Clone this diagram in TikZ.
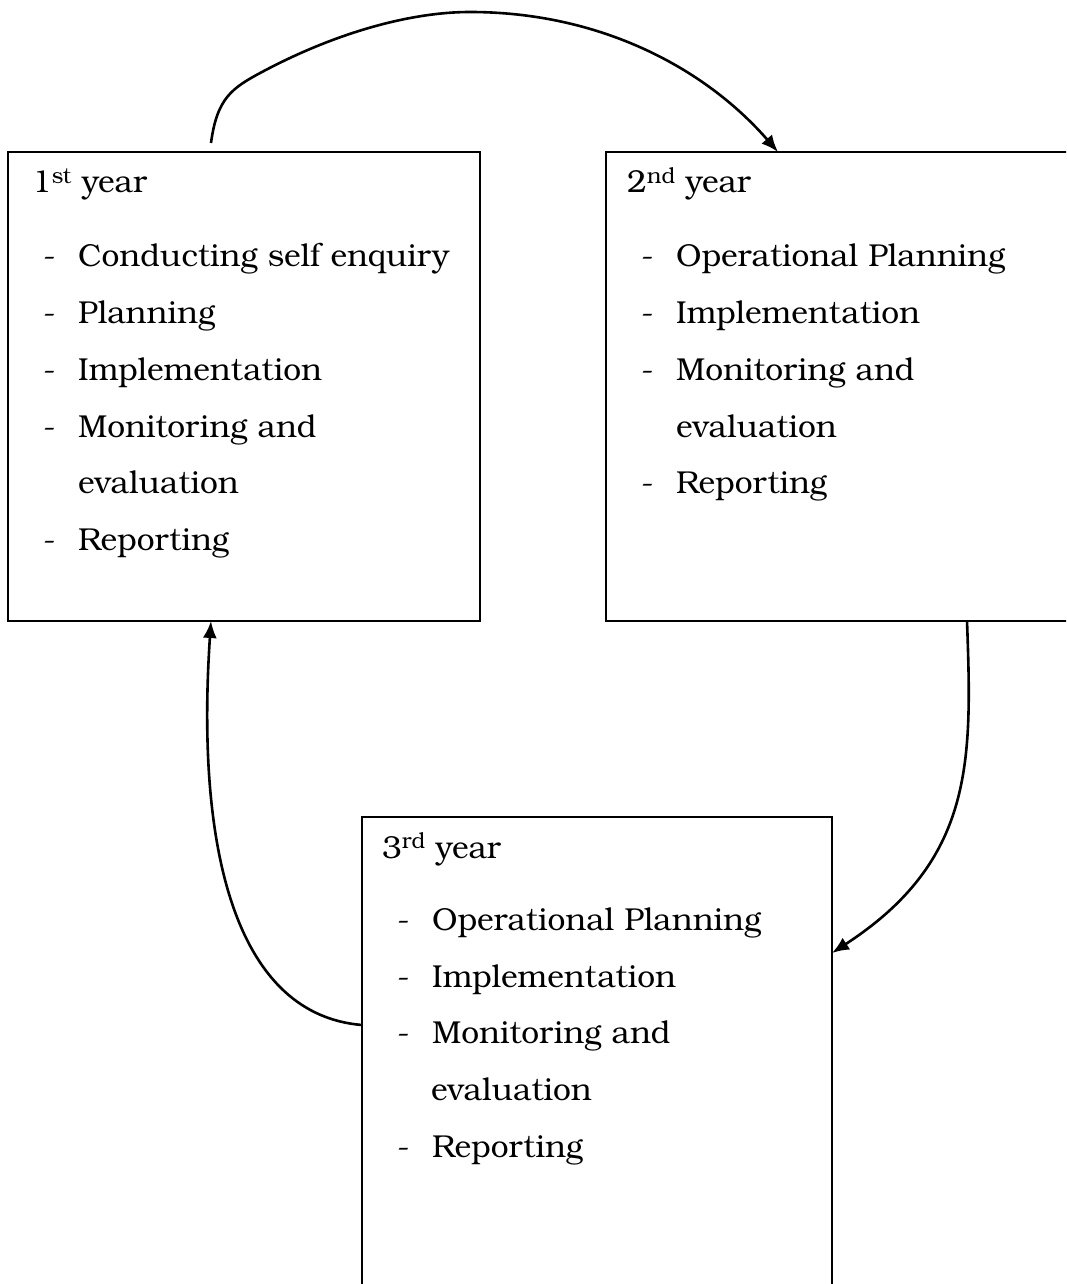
\documentclass[tikz,border=0pt]{standalone}
\usepackage{fontspec}
\setmainfont{texgyrebonum-regular.otf}
\usetikzlibrary{arrows.meta}
\newcommand{\itm}[1]{\makebox[35pt][l]{-}#1}
\begin{document}
\begin{tikzpicture}[x=1pt,y=-1pt,
  box/.style={draw,line width=2pt,inner sep=0pt,outer sep=0pt},
  lbl/.style={anchor=base west,inner sep=0pt,font=\fontsize{31.7}{37}\selectfont},
  conn/.style={line width=2.6pt,-{Latex[length=17pt,width=14pt]}}]
\clip (0,0) rectangle (1066,1284);
\fill[white] (0,0) rectangle (1066,1284);
% boxes
\node[box,anchor=north west,minimum width=472pt,minimum height=469pt] (b1) at (8,152) {};
\node[box,anchor=north west,minimum width=520pt,minimum height=469pt] (b2) at (606,152) {};
\node[box,anchor=north west,minimum width=470pt,minimum height=620pt] (b3) at (362,817) {};
% box 1 text
\node[lbl] (t1) at (32,193) {1\textsuperscript{st} year};
\node[lbl] (i1a) at (43,266) {\itm{Conducting self enquiry}};
\node[lbl] (i1b) at (43,323) {\itm{Planning}};
\node[lbl] (i1c) at (43,380) {\itm{Implementation}};
\node[lbl] (i1d) at (43,437) {\itm{Monitoring and}};
\node[lbl] (i1e) at (78,493) {evaluation};
\node[lbl] (i1f) at (43,550) {\itm{Reporting}};
% box 2 text
\node[lbl] (t2) at (627,193) {2\textsuperscript{nd} year};
\node[lbl] (i2a) at (641,266) {\itm{Operational Planning}};
\node[lbl] (i2b) at (641,323) {\itm{Implementation}};
\node[lbl] (i2c) at (641,380) {\itm{Monitoring and}};
\node[lbl] (i2d) at (676,437) {evaluation};
\node[lbl] (i2e) at (641,493) {\itm{Reporting}};
% box 3 text
\node[lbl] (t3) at (382,858) {3\textsuperscript{rd} year};
\node[lbl] (i3a) at (397,930) {\itm{Operational Planning}};
\node[lbl] (i3b) at (397,987) {\itm{Implementation}};
\node[lbl] (i3c) at (397,1043) {\itm{Monitoring and}};
\node[lbl] (i3d) at (431,1100) {evaluation};
\node[lbl] (i3e) at (397,1157) {\itm{Reporting}};
% connectors
\coordinate (a1s) at (211,143);
\coordinate (a1m) at (470,12);
\draw[conn] (a1s) .. controls (217,98) and (232,88) .. (262,72)
  .. controls (335,33) and (410,12) .. (a1m)
  .. controls (600,12) and (705,68) .. ([xshift=172pt]b2.north west);
\draw[conn] ([xshift=361pt]b2.south west) .. controls (972,760) and (975,860) .. ([yshift=-136pt]b3.north east);
\draw[conn] ([yshift=-208pt]b3.north west) .. controls (240,1015) and (195,860) .. ([xshift=203pt]b1.south west);
\end{tikzpicture}
\end{document}
